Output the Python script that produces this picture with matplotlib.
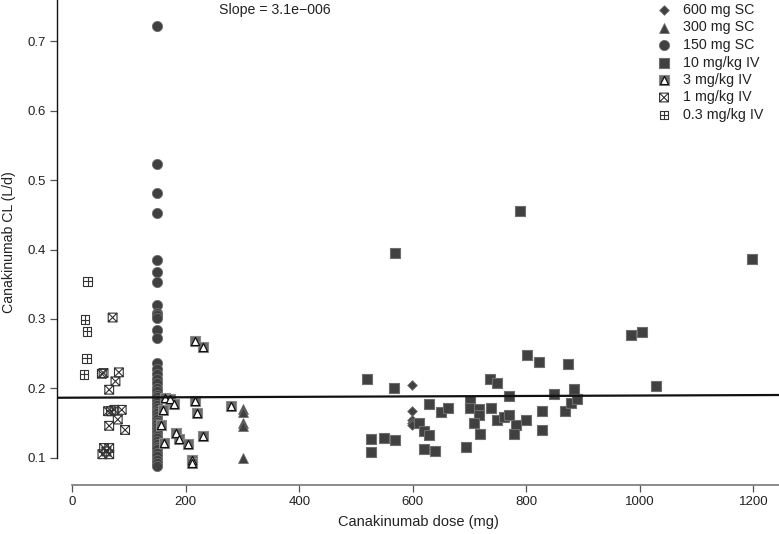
import numpy as np
import matplotlib
matplotlib.use("Agg")
import matplotlib.pyplot as plt
from matplotlib.path import Path

plt.rcParams['font.family'] = ['Liberation Sans', 'DejaVu Sans']

# ---------------- data ----------------
dose_600sc = [599, 599, 599, 599, 599]
cl_600sc = [0.205, 0.168, 0.155, 0.150, 0.147]

dose_300sc = [300, 300, 300, 300, 300]
cl_300sc = [0.170, 0.166, 0.150, 0.145, 0.099]

cl_150sc = [0.722, 0.523, 0.481, 0.453, 0.385, 0.367, 0.353, 0.320, 0.308, 0.305,
            0.301, 0.284, 0.273, 0.236, 0.228, 0.221, 0.214, 0.207, 0.201, 0.196,
            0.191, 0.187, 0.183, 0.180, 0.176, 0.172, 0.168, 0.164, 0.160, 0.156,
            0.152, 0.148, 0.144, 0.140, 0.136, 0.132, 0.128, 0.124, 0.120, 0.116,
            0.112, 0.107, 0.102, 0.097, 0.092, 0.088]
dose_150sc = [150] * len(cl_150sc)

dose_10iv = [519, 569, 566, 527, 527, 549, 569, 629, 649, 661, 610, 619, 629, 619,
             639, 694, 700, 700, 716, 716, 708, 719, 737, 735, 749, 770, 749, 760,
             770, 781, 778, 788, 799, 801, 822, 828, 828, 848, 868, 874, 878, 883,
             889, 985, 1003, 1029, 1198]
cl_10iv = [0.214, 0.395, 0.201, 0.127, 0.108, 0.129, 0.126, 0.178, 0.166, 0.172,
           0.150, 0.139, 0.133, 0.112, 0.110, 0.116, 0.182, 0.172, 0.170, 0.162,
           0.150, 0.134, 0.172, 0.213, 0.207, 0.189, 0.154, 0.158, 0.162, 0.147,
           0.134, 0.455, 0.154, 0.248, 0.238, 0.168, 0.140, 0.192, 0.168, 0.235,
           0.179, 0.199, 0.184, 0.277, 0.281, 0.204, 0.386]

dose_3iv = [216, 231, 160, 157, 162, 164, 172, 180, 216, 219, 182, 188, 203, 231,
            210, 210, 280]
cl_3iv = [0.268, 0.260, 0.169, 0.147, 0.121, 0.186, 0.184, 0.178, 0.182, 0.165,
          0.135, 0.127, 0.120, 0.131, 0.097, 0.093, 0.175]

dose_1iv = [71, 55, 52, 82, 76, 65, 63, 68, 74, 87, 80, 65, 93, 56, 65, 53, 65, 60]
cl_1iv = [0.302, 0.222, 0.221, 0.223, 0.210, 0.198, 0.167, 0.167, 0.169, 0.169,
          0.155, 0.146, 0.140, 0.114, 0.114, 0.105, 0.105, 0.109]

dose_03iv = [27, 22, 26, 25, 21]
cl_03iv = [0.354, 0.299, 0.282, 0.243, 0.220]

slope = 3.1e-6
intercept = 0.1865
slope_label = "Slope = 3.1e\u2212006"

legend_labels = ["600 mg SC", "300 mg SC", "150 mg SC", "10 mg/kg IV",
                 "3 mg/kg IV", "1 mg/kg IV", "0.3 mg/kg IV"]

x_ticks = [0, 200, 400, 600, 800, 1000, 1200]
y_ticks = [0.1, 0.2, 0.3, 0.4, 0.5, 0.6, 0.7]

# ---------------- markers ----------------
M, L, C = Path.MOVETO, Path.LINETO, Path.CLOSEPOLY
sq_x = Path([(-1, -1), (1, -1), (1, 1), (-1, 1), (-1, -1),
             (-1, -1), (1, 1), (-1, 1), (1, -1)],
            [M, L, L, L, C, M, L, M, L])
sq_plus = Path([(-1, -1), (1, -1), (1, 1), (-1, 1), (-1, -1),
                (0, -1), (0, 1), (-1, 0), (1, 0)],
               [M, L, L, L, C, M, L, M, L])
tri_in = Path([(0, 1), (-1, -1), (1, -1), (0, 1)], [M, L, L, C])
sq_full = Path([(-1, -1), (1, -1), (1, 1), (-1, 1), (-1, -1)], [M, L, L, L, C])

DARK = '#404040'
EDGE = '#6e6e6e'


def draw_group(ax, x, y, kind, transform=None):
    kw = {}
    if transform is not None:
        kw['transform'] = transform
        kw['clip_on'] = False
    if kind == 'D':
        ax.scatter(x, y, marker='D', s=24, c=DARK, edgecolors=EDGE, linewidths=0.6, zorder=3, **kw)
    elif kind == '^':
        ax.scatter(x, y, marker='^', s=50, c=DARK, edgecolors=EDGE, linewidths=0.6, zorder=3, **kw)
    elif kind == 'o':
        ax.scatter(x, y, marker='o', s=54, c=DARK, edgecolors=EDGE, linewidths=0.6, zorder=3, **kw)
    elif kind == 's':
        ax.scatter(x, y, marker='s', s=48, c=DARK, edgecolors=EDGE, linewidths=0.8, zorder=3, **kw)
    elif kind == 'sqtri':
        ax.scatter(x, y, marker=sq_full, s=44, c='#6a6a6a', edgecolors='#8a8a8a', linewidths=0.8, zorder=3, **kw)
        ax.scatter(x, y, marker=tri_in, s=34, c='white', edgecolors='#111111', linewidths=0.9, zorder=3.1, **kw)
    elif kind == 'sqx':
        ax.scatter(x, y, marker=sq_x, s=40, facecolors='none', edgecolors='#333333', linewidths=0.8, zorder=3, **kw)
    elif kind == 'sqplus':
        ax.scatter(x, y, marker=sq_plus, s=36, facecolors='none', edgecolors='#333333', linewidths=0.8, zorder=3, **kw)


# ---------------- figure ----------------
W, H = 779, 534
fig = plt.figure(figsize=(W / 100, H / 100), dpi=100)
ax_left, ax_right, ax_bottom, ax_top = 57, 779, 485, 0
ax = fig.add_axes([ax_left / W, (H - ax_bottom) / H, (ax_right - ax_left) / W, (ax_bottom - ax_top) / H])
ax.set_xlim(-27, 1245)
ax.set_ylim(0.0607, 0.7595)

groups = [
    (dose_600sc, cl_600sc, 'D'),
    (dose_300sc, cl_300sc, '^'),
    (dose_150sc, cl_150sc, 'o'),
    (dose_10iv, cl_10iv, 's'),
    (dose_3iv, cl_3iv, 'sqtri'),
    (dose_1iv, cl_1iv, 'sqx'),
    (dose_03iv, cl_03iv, 'sqplus'),
]
for x, y, k in groups:
    draw_group(ax, x, y, k)

xl = np.array(ax.get_xlim())
ax.plot(xl, intercept + slope * xl, color='#111111', lw=1.6, zorder=4)

# spines
for s in ['top', 'right']:
    ax.spines[s].set_visible(False)
ax.spines['left'].set_bounds(0.1, 0.7595)
ax.spines['left'].set_color('#111111')
ax.spines['bottom'].set_bounds(0, 1245)
ax.spines['bottom'].set_color('#777777')
ax.spines['left'].set_linewidth(1.0)
ax.spines['bottom'].set_linewidth(1.2)

ax.set_xticks(x_ticks)
ax.set_yticks(y_ticks)
ax.set_yticklabels([f"{v:.1f}" for v in y_ticks])
ax.tick_params(axis='both', direction='out', length=5, width=0.9, color='#555555',
               labelsize=9.5, labelcolor='#222222')
ax.tick_params(axis='x', pad=3)
ax.tick_params(axis='y', pad=3)

ax.set_xlabel("Canakinumab dose (mg)", fontsize=10.5, color='#222222', labelpad=5)
ax.set_ylabel("Canakinumab CL (L/d)", fontsize=10.2, color='#222222')
ax.yaxis.label.set_verticalalignment('center')
ax.yaxis.set_label_coords(-(57 - 9) / (ax_right - ax_left), 0.5)

ax.text((275 - ax_left) / (ax_right - ax_left), 1 - 10 / ax_bottom, slope_label,
        transform=ax.transAxes, ha='center', va='center', fontsize=10.2, color='#222222')

# legend (manual)
kinds = ['D', '^', 'o', 's', 'sqtri', 'sqx', 'sqplus']
for i, (lab, k) in enumerate(zip(legend_labels, kinds)):
    ypx = 10 + i * 17.5
    xa = (664 - ax_left) / (ax_right - ax_left)
    ya = 1 - ypx / ax_bottom
    draw_group(ax, [xa], [ya], k, transform=ax.transAxes)
    ax.text((683 - ax_left) / (ax_right - ax_left), ya, lab, transform=ax.transAxes,
            ha='left', va='center', fontsize=10.3, color='#222222')

fig.savefig("out.png", dpi=100)
